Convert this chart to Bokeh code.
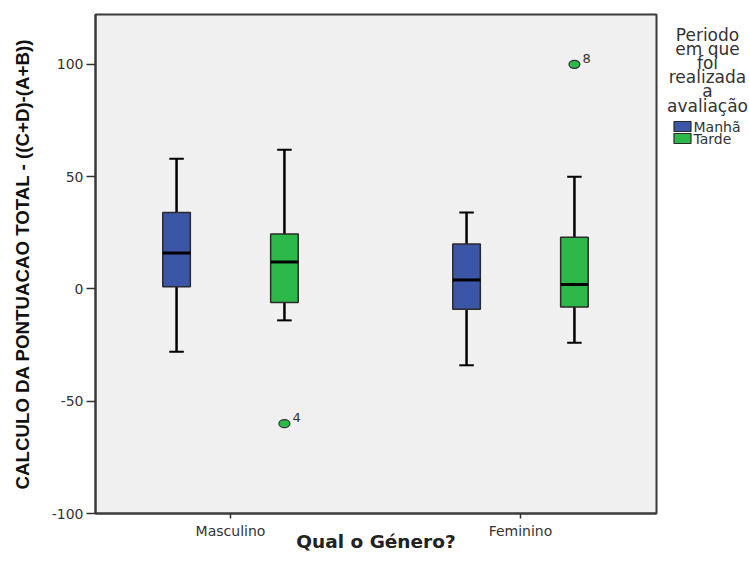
from bokeh.plotting import figure
from bokeh.layouts import row
from bokeh.models import ColumnDataSource, FixedTicker, Range1d
from bokeh.core.properties import value
from bokeh.embed import file_html
from bokeh.resources import INLINE

# ---- data ----
genero = ["Masculino", "Feminino"]
periodo = ["Manhã", "Tarde"]
cores = ["#3B55A7", "#2DB84A"]

# for each period, values for [Masculino, Feminino]
whisker_low = {"Manhã": [-28, -34], "Tarde": [-14, -24]}
q1 = {"Manhã": [1, -9], "Tarde": [-6, -8]}
mediana = {"Manhã": [16, 4], "Tarde": [12, 2]}
q3 = {"Manhã": [34, 20], "Tarde": [24.5, 23]}
whisker_high = {"Manhã": [58, 34], "Tarde": [62, 50]}

outlier_genero = ["Masculino", "Feminino"]
outlier_periodo = ["Tarde", "Tarde"]
outlier_valor = [-60, 100]
outlier_rotulo = ["4", "8"]

y_ticks = [-100, -50, 0, 50, 100]
y_tick_labels = ["-100", "-50", "0", "50", "100"]

legend_title = ["Periodo", "em que", "foi", "realizada", "a", "avaliação"]

# ---- layout constants ----
offset = {"Manhã": -0.186, "Tarde": 0.186}
box_w = 0.095
cap_half = 0.025
FONT = "DejaVu Sans"

p = figure(width=662, height=562, output_backend="svg", toolbar_location=None,
           x_range=(-0.4655, 1.469), y_range=(-100, 122.2),
           min_border_left=95, min_border_right=6, min_border_top=14,
           min_border_bottom=49)

p.background_fill_color = "#F0F0F0"
p.border_fill_color = "white"
p.outline_line_color = "#3a3a3a"
p.outline_line_width = 2
p.xgrid.visible = False
p.ygrid.visible = False

for per, cor in zip(periodo, cores):
    xs = [i + offset[per] for i in range(len(genero))]
    src = ColumnDataSource(dict(
        x=xs,
        x0=[x - box_w / 2 for x in xs],
        x1=[x + box_w / 2 for x in xs],
        c0=[x - cap_half for x in xs],
        c1=[x + cap_half for x in xs],
        lo=whisker_low[per], q1=q1[per], med=mediana[per],
        q3=q3[per], hi=whisker_high[per]))
    p.segment(x0="x", y0="hi", x1="x", y1="q3", source=src, line_color="black", line_width=2.5)
    p.segment(x0="x", y0="lo", x1="x", y1="q1", source=src, line_color="black", line_width=2.5)
    p.segment(x0="c0", y0="hi", x1="c1", y1="hi", source=src, line_color="black", line_width=2)
    p.segment(x0="c0", y0="lo", x1="c1", y1="lo", source=src, line_color="black", line_width=2)
    p.vbar(x="x", width=box_w, bottom="q1", top="q3", source=src,
           fill_color=cor, line_color="#2a2a2a", line_width=1.5)
    p.segment(x0="x0", y0="med", x1="x1", y1="med", source=src, line_color="black", line_width=3)

# outliers
ox = [genero.index(g) + offset[pp] for g, pp in zip(outlier_genero, outlier_periodo)]
ocol = [cores[periodo.index(pp)] for pp in outlier_periodo]
osrc = ColumnDataSource(dict(x=ox, y=outlier_valor, t=outlier_rotulo, c=ocol))
p.ellipse(x="x", y="y", width=11, height=8, width_units="screen", height_units="screen",
          source=osrc, fill_color="c", line_color="#333333", line_width=1.2)
p.text(x="x", y="y", text="t", source=osrc, x_offset=8, y_offset=-6,
       text_font=value(FONT), text_font_size="13px", text_color="#333333",
       text_baseline="alphabetic", text_align="left")

# axes
p.xaxis.ticker = FixedTicker(ticks=list(range(len(genero))))
p.xaxis.major_label_overrides = {i: g for i, g in enumerate(genero)}
p.yaxis.ticker = FixedTicker(ticks=y_ticks)
p.yaxis.major_label_overrides = dict(zip(y_ticks, y_tick_labels))
for ax in (p.xaxis, p.yaxis):
    ax.axis_line_color = "#3a3a3a"
    ax.axis_line_width = 2
    ax.major_tick_line_color = "#333333"
    ax.major_tick_line_width = 1.5
    ax.minor_tick_line_color = None
    ax.major_tick_in = 0
    ax.major_label_text_font = FONT
    ax.major_label_text_font_size = "14px"
    ax.major_label_text_color = "#333333"
p.xaxis.major_tick_out = 5
p.xaxis.major_label_standoff = 4
p.yaxis.major_tick_out = 9
p.yaxis.major_label_standoff = 3

p.xaxis.axis_label = "Qual o Género?"
p.xaxis.axis_label_text_font = FONT
p.xaxis.axis_label_text_font_style = "bold"
p.xaxis.axis_label_text_font_size = "18.5px"
p.xaxis.axis_label_text_color = "#222222"
p.xaxis.axis_label_standoff = -11

p.yaxis.axis_label = "CALCULO DA PONTUACAO TOTAL - ((C+D)-(A+B))"
p.yaxis.axis_label_text_font = "Liberation Sans"
p.yaxis.axis_label_text_font_style = "bold"
p.yaxis.axis_label_text_font_size = "18.7px"
p.yaxis.axis_label_text_color = "#111111"
p.yaxis.axis_label_standoff = 16

# ---- legend panel (pixel coordinates of the page, y downward) ----
# frame of this panel is aligned with the main frame (page y 14..513)
lg = figure(width=87, height=562, output_backend="svg", toolbar_location=None,
            x_range=Range1d(0, 87), y_range=Range1d(513, 14),
            x_axis_location=None, y_axis_location=None,
            min_border_left=0, min_border_right=0,
            min_border_top=14, min_border_bottom=49)
lg.outline_line_color = None
lg.background_fill_color = "white"
lg.border_fill_color = "white"
lg.xgrid.visible = False
lg.ygrid.visible = False

tsrc = ColumnDataSource(dict(x=[45] * len(legend_title),
                             y=[34 + 14.2 * i for i in range(len(legend_title))],
                             t=legend_title))
lg.text(x="x", y="y", text="t", source=tsrc, text_font=value(FONT),
        text_font_size="17px", text_color="#333333", text_align="center",
        text_baseline="alphabetic")

ysw = [126 + 12 * i for i in range(len(periodo))]
lsrc = ColumnDataSource(dict(x=[20] * len(periodo), y=ysw, c=cores, t=periodo,
                             tx=[31] * len(periodo)))
lg.rect(x="x", y="y", width=17, height=10, source=lsrc, fill_color="c",
        line_color="#2a2a2a", line_width=1.2)
lg.text(x="tx", y="y", text="t", source=lsrc, text_font=value(FONT),
        text_font_size="14px", text_color="#333333", text_align="left",
        text_baseline="middle")

layout = row(p, lg, spacing=0)
open("out.html", "w").write(file_html(layout, INLINE))
